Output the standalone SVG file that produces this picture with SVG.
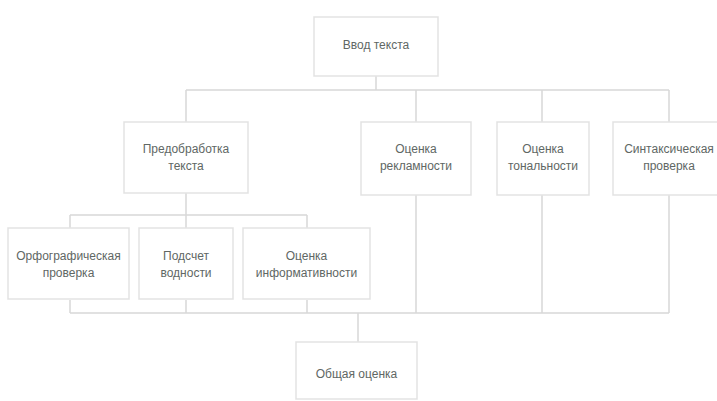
<svg xmlns="http://www.w3.org/2000/svg" width="717" height="401" viewBox="0 0 717 401">
<style>
.box{fill:#ffffff;stroke:#e3e3e3;stroke-width:1.5}
.t{font-family:"Liberation Sans",Arial,sans-serif;font-size:12px;fill:#606764;text-anchor:middle}
.c{fill:none;stroke:#d8d8d8;stroke-width:1.5}
</style>
<rect width="717" height="401" fill="#ffffff"/>
<g id="connectors">
<path class="c" d="M376,76V90M186,90H669M186,90V122M416,90V122M542,90V122M669,90V122"/>
<path class="c" d="M186,193V215M70,215H307M70,215V228M186,215V228M307,215V228"/>
<path class="c" d="M70,300V313M186,300V313M307,300V313M416,195V313M542,195V313M669,195V313M70,313H669M358,313V342"/>
</g>
<g id="n-input"><rect class="box" x="314" y="17" width="124" height="59"/><text class="t" x="376" y="49">Ввод текста</text></g>
<g id="n-preproc"><rect class="box" x="124" y="122" width="124" height="71"/><text class="t" x="186" y="153">Предобработка</text><text class="t" x="186" y="170">текста</text></g>
<g id="n-ads"><rect class="box" x="361" y="122" width="110" height="73"/><text class="t" x="416" y="153">Оценка</text><text class="t" x="416" y="170">рекламности</text></g>
<g id="n-tone"><rect class="box" x="497" y="122" width="92" height="73"/><text class="t" x="543" y="153">Оценка</text><text class="t" x="543" y="170">тональности</text></g>
<g id="n-syntax"><rect class="box" x="613" y="122" width="112" height="73"/><text class="t" x="669" y="153">Синтаксическая</text><text class="t" x="669" y="170">проверка</text></g>
<g id="n-spell"><rect class="box" x="8" y="228" width="121" height="71"/><text class="t" x="68.5" y="260">Орфографическая</text><text class="t" x="68.5" y="277">проверка</text></g>
<g id="n-water"><rect class="box" x="139" y="228" width="94" height="71"/><text class="t" x="186" y="260">Подсчет</text><text class="t" x="186" y="277">водности</text></g>
<g id="n-info"><rect class="box" x="243" y="228" width="127" height="71"/><text class="t" x="306.5" y="260">Оценка</text><text class="t" x="306.5" y="277">информативности</text></g>
<g id="n-total"><rect class="box" x="296" y="342" width="121" height="57"/><text class="t" x="356.5" y="378">Общая оценка</text></g>
</svg>
